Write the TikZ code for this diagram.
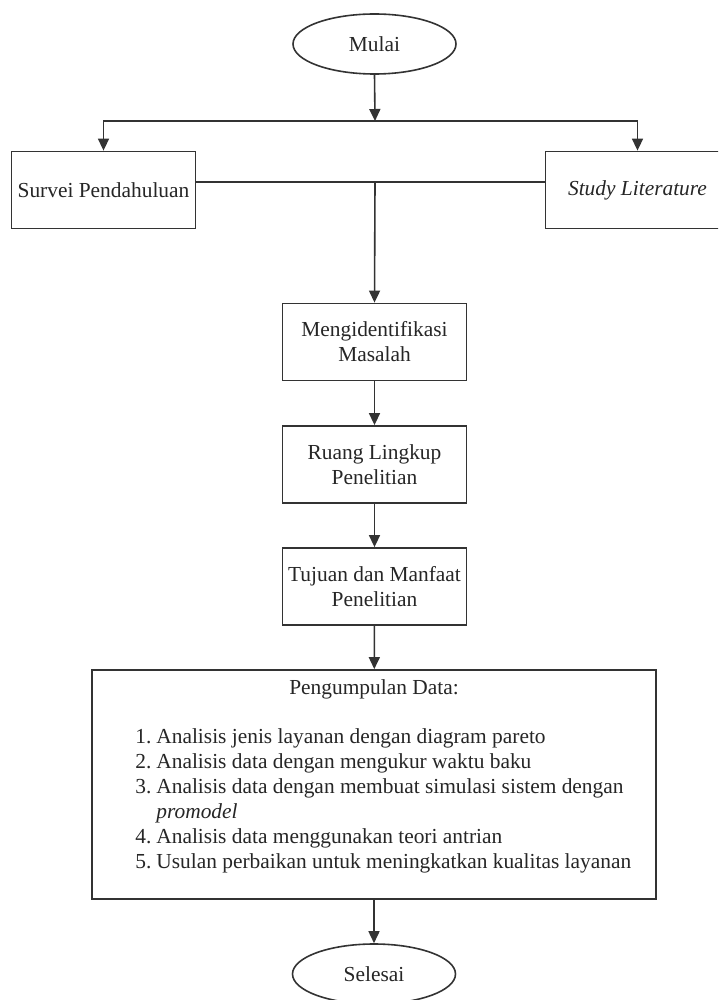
\documentclass[tikz,border=0pt]{standalone}
\usepackage{fontspec}
\setmainfont{Liberation Serif}
\usetikzlibrary{shapes.geometric,arrows.meta}
\tikzset{
  base/.style={font=\fontsize{10.7}{12.5}\selectfont, text=black!85},
  stepbox/.style={base, draw=black!80, line width=0.9pt, rectangle, minimum width=92pt, minimum height=38.5pt, inner sep=2pt, align=center},
  terminal/.style={base, draw=black!80, line width=0.8pt, ellipse, minimum width=81.5pt, minimum height=30pt, inner sep=0pt},
  conn/.style={draw=black!80, line width=0.8pt},
  arr/.style={conn, -{Triangle[width=5.5pt,length=6pt]}},
  item/.style={base, anchor=base west, inner sep=0pt}
}
\newcommand{\num}[1]{\makebox[10.5pt][l]{#1}}
\begin{document}
\begin{tikzpicture}[x=0.5pt,y=-0.5pt]
\useasboundingbox (0,0) rectangle (718,1000);
\clip (0,0) rectangle (718,1000);
\fill[white] (0,0) rectangle (718,1000);

\node[terminal] (mulai) at (374.5,44) {Mulai};
\node[stepbox] (survei) at (103.5,190) {Survei Pendahuluan};
\node[stepbox] (study) at (637.5,190) {\textit{Study Literature}};
\node[stepbox] (ident) at (374.5,342) {Mengidentifikasi\\Masalah};
\node[stepbox] (ruang) at (374.5,464.5) {Ruang Lingkup\\Penelitian};
\node[stepbox] (tujuan) at (374.5,586.5) {Tujuan dan Manfaat\\Penelitian};
\node[stepbox, minimum width=282pt, minimum height=114.5pt] (data) at (374,784.5) {};
\node[base, anchor=base, inner sep=0pt] (d0) at (374,694) {Pengumpulan Data:};
\node[item] (d1) at (135,743) {\num{1.}Analisis jenis layanan dengan diagram pareto};
\node[item] (d2) at (135,768) {\num{2.}Analisis data dengan mengukur waktu baku};
\node[item] (d3) at (135,793) {\num{3.}Analisis data dengan membuat simulasi sistem dengan};
\node[item] (d3b) at (156,818) {\textit{promodel}};
\node[item] (d4) at (135,843) {\num{4.}Analisis data menggunakan teori antrian};
\node[item] (d5) at (135,868) {\num{5.}Usulan perbaikan untuk meningkatkan kualitas layanan};
\node[terminal] (selesai) at (374,974) {Selesai};

\coordinate (jn) at (375,121);
\coordinate (mid) at (375,182);

\draw[arr] (mulai.south) -- (jn);
\draw[arr] (jn) -| (survei.north);
\draw[arr] (jn) -| (study.north);
\draw[conn] (mid -| survei.east) -- (mid -| study.west);
\draw[arr] (mid) -- (ident.north);
\draw[arr] (ident) -- (ruang);
\draw[arr] (ruang) -- (tujuan);
\draw[arr] (tujuan) -- (data);
\draw[arr] (data) -- (selesai);
\end{tikzpicture}
\end{document}
